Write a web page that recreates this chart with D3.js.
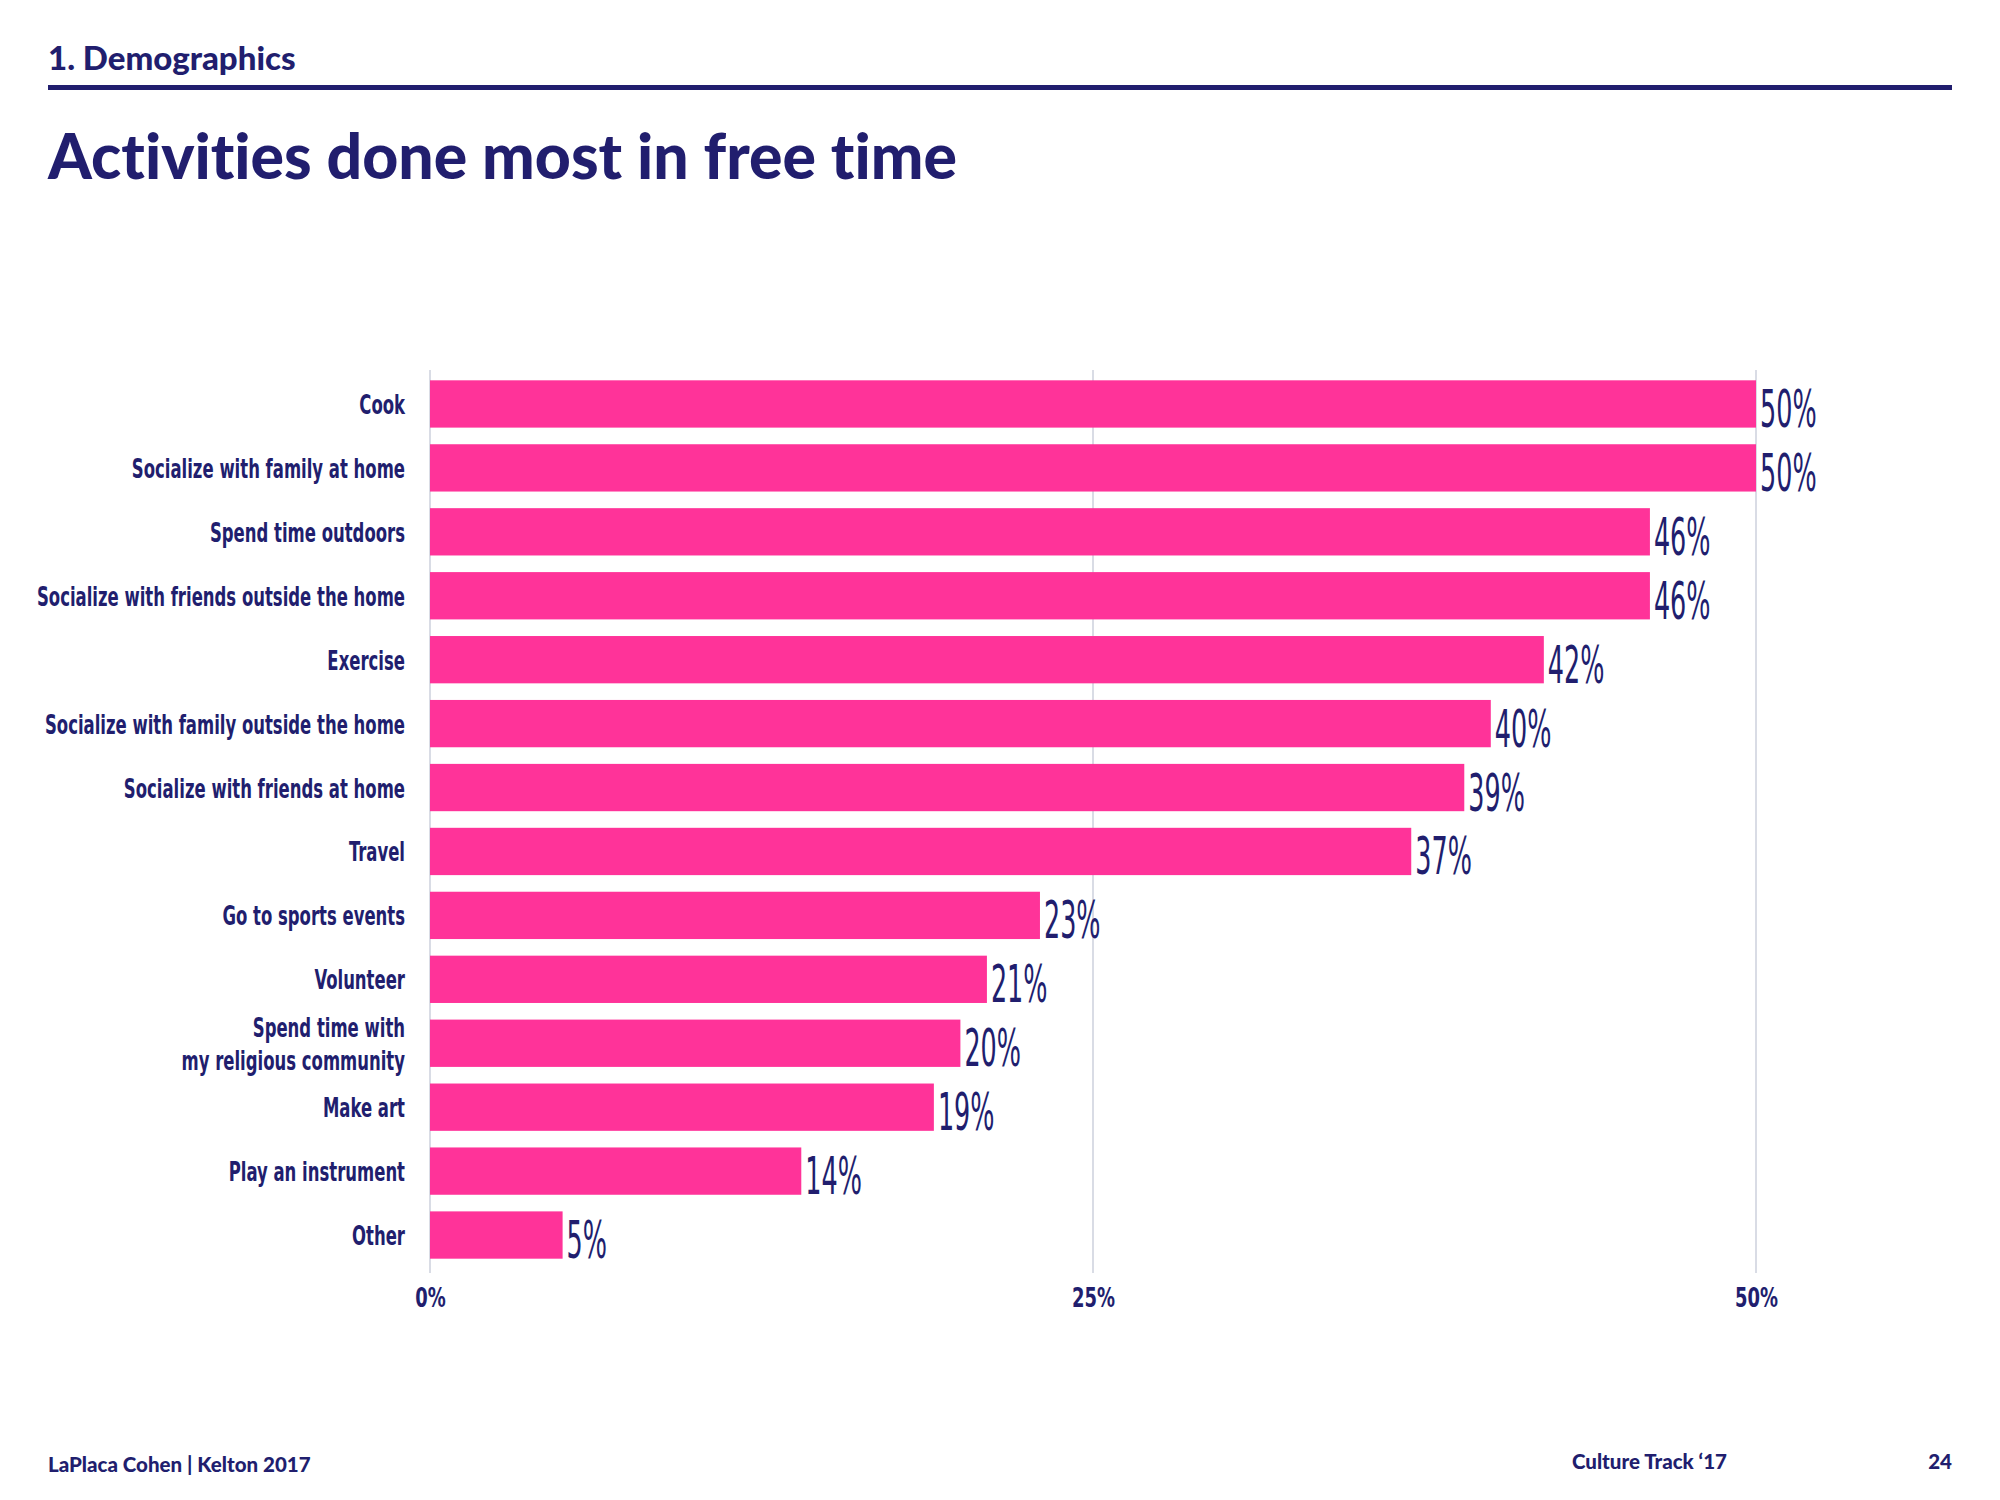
<!DOCTYPE html>
<html>
<head>
<meta charset="utf-8">
<script src="https://cdn.jsdelivr.net/npm/d3@7"></script>
<style>
  body { margin: 0; background: #fff; }
  svg { display: block; }
  text { font-variant-ligatures: none; }
</style>
</head>
<body>
<div id="chart"></div>
<script>
const categories = [
    'Cook',
    'Socialize with family at home',
    'Spend time outdoors',
    'Socialize with friends outside the home',
    'Exercise',
    'Socialize with family outside the home',
    'Socialize with friends at home',
    'Travel',
    'Go to sports events',
    'Volunteer',
    'Spend time with\nmy religious community',
    'Make art',
    'Play an instrument',
    'Other'
];
const values = [50, 50, 46, 46, 42, 40, 39, 37, 23, 21, 20, 19, 14, 5];
const tickValues = [0, 25, 50];

const width = 2000;
const height = 1500;
const navy = '#211e6e';
const pink = '#ff3399';
const narrow = '"DejaVu Sans Condensed", "DejaVu Sans", sans-serif';
const heavy = 'Lato, "Open Sans", sans-serif';

const svg = d3.select('#chart')
    .append('svg')
    .attr('width', width)
    .attr('height', height)
    .attr('viewBox', [0, 0, width, height]);

// header
svg.append('text')
    .attr('x', 48).attr('y', 70)
    .attr('fill', navy)
    .attr('font-family', heavy)
    .attr('font-weight', 900)
    .attr('font-size', 33)
    .text('1. Demographics');

svg.append('rect')
    .attr('x', 48).attr('y', 85)
    .attr('width', 1904).attr('height', 5)
    .attr('fill', navy);

svg.append('text')
    .attr('x', 48).attr('y', 179)
    .attr('fill', navy)
    .attr('font-family', heavy)
    .attr('font-weight', 900)
    .attr('font-size', 62.5)
    .text('Activities done most in free time');

const x = d3.scaleLinear()
    .domain([0, 50])
    .range([430, 1756]);

const y = d3.scaleBand()
    .domain(d3.range(categories.length))
    .range([372, 1267])
    .paddingInner(0.26)
    .paddingOuter(0.13);

// gridlines
svg.append('g')
    .selectAll('line')
    .data(tickValues)
    .join('line')
    .attr('x1', d => x(d)).attr('x2', d => x(d))
    .attr('y1', 370).attr('y2', 1273)
    .attr('stroke', '#cdd1dc')
    .attr('stroke-width', 1.5);

// bars
svg.append('g')
    .attr('fill', pink)
    .selectAll('rect')
    .data(values)
    .join('rect')
    .attr('x', x(0))
    .attr('y', (d, i) => y(i))
    .attr('width', d => x(d) - x(0))
    .attr('height', y.bandwidth());

// value labels
svg.append('g')
    .selectAll('text')
    .data(values)
    .join('text')
    .attr('transform', (d, i) => `translate(${x(d) + 4},${y(i) + y.bandwidth() / 2 + 23}) scale(0.555,1)`)
    .attr('fill', navy)
    .attr('font-family', narrow)
    .attr('font-size', 51)
    .text(d => d + '%');

// category labels
const labels = svg.append('g')
    .selectAll('text')
    .data(categories)
    .join('text')
    .attr('transform', (d, i) => `translate(405,${y(i) + y.bandwidth() / 2}) scale(0.705,1)`)
    .attr('fill', navy)
    .attr('font-family', narrow)
    .attr('font-weight', 700)
    .attr('font-size', 26)
    .attr('text-anchor', 'end');

labels.each(function (d) {
    const lines = d.split('\n');
    const t = d3.select(this);
    lines.forEach((line, j) => {
        t.append('tspan')
            .attr('x', 0)
            .attr('y', (j - (lines.length - 1) / 2) * 33 + 10)
            .text(line);
    });
});

// x axis
const xAxis = g => g
    .attr('transform', `translate(0,1288)`)
    .call(d3.axisBottom(x).tickValues(tickValues).tickSize(0).tickPadding(0).tickFormat(d => d + '%'))
    .call(g => g.select('.domain').remove())
    .call(g => g.selectAll('text')
        .attr('fill', navy)
        .attr('font-family', narrow)
        .attr('font-weight', 700)
        .attr('font-size', 27)
        .attr('transform', 'scale(0.74,1)')
        .attr('dy', '0.71em'));
svg.append('g').call(xAxis);

// footer
svg.append('text')
    .attr('x', 48).attr('y', 1472)
    .attr('fill', navy)
    .attr('font-family', heavy)
    .attr('font-weight', 900)
    .attr('font-size', 20.5)
    .text('LaPlaca Cohen | Kelton 2017');

svg.append('text')
    .attr('x', 1727).attr('y', 1469)
    .attr('text-anchor', 'end')
    .attr('fill', navy)
    .attr('font-family', heavy)
    .attr('font-weight', 900)
    .attr('font-size', 20.5)
    .text('Culture Track \u201817');

svg.append('text')
    .attr('x', 1952).attr('y', 1469)
    .attr('text-anchor', 'end')
    .attr('fill', navy)
    .attr('font-family', heavy)
    .attr('font-weight', 900)
    .attr('font-size', 20.5)
    .text('24');
</script>
</body>
</html>
